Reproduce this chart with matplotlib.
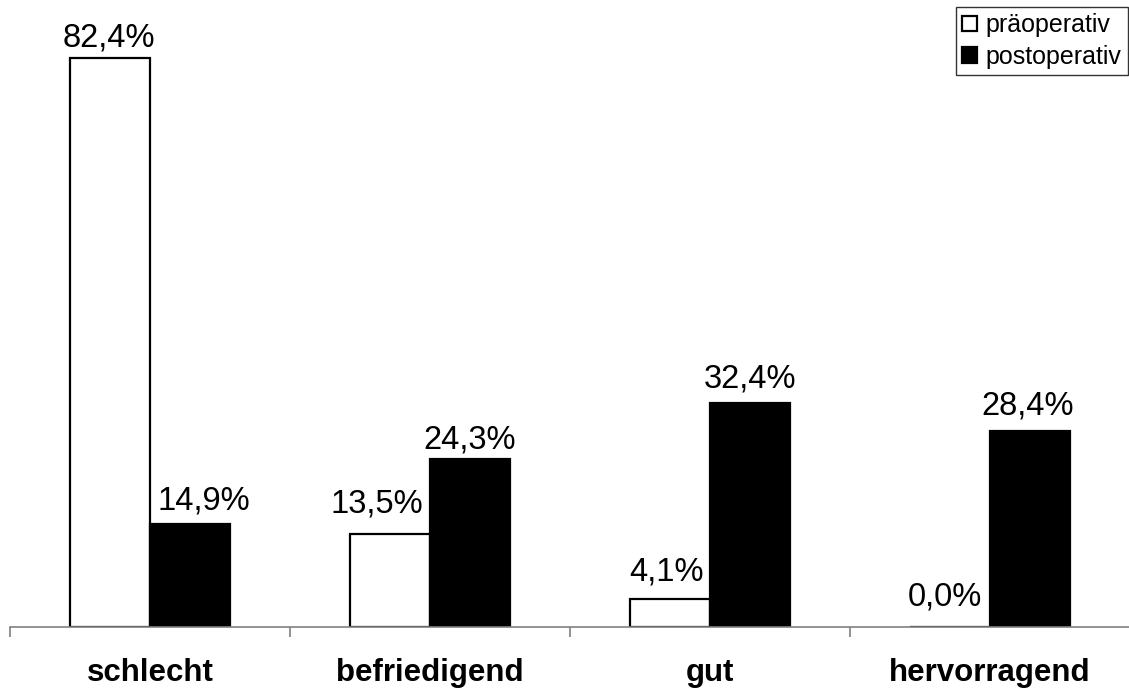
import numpy as np
import matplotlib
matplotlib.use("Agg")
import matplotlib.pyplot as plt

plt.rcParams['font.family'] = ['Liberation Sans', 'DejaVu Sans']

# Zufriedenheit vor / nach OP (Prozent)
categories = ["schlecht", "befriedigend", "gut", "hervorragend"]
prae = [82.4, 13.5, 4.1, 0.0]
post = [14.9, 24.3, 32.4, 28.4]

# Verschiebung der Beschriftungen (Pixel: dx, Abstand Grundlinie ueber Balken)
prae_dx = [-1, -13, -4, -5]
prae_dy = [12, 21, 18, 21]
post_dx = [14, 0, 0, -2]
post_dy = [15, 11, 16, 17]

def fmt(v):
    return f"{v:.1f}%".replace(".", ",")

fig = plt.figure(figsize=(11.29, 6.9), dpi=100)
ax = fig.add_axes([10/1129, 63/690, 1120/1129, 621/690])

x = np.arange(len(categories))
w = 80/280

b1 = ax.bar(x - w/2, prae, w, color="white", edgecolor="black", linewidth=1.6, label="präoperativ")
b2 = ax.bar(x + w/2, post, w, color="black", edgecolor="black", linewidth=1.6, label="postoperativ")

px = 72/100
for bars, vals, dxs, dys in ((b1, prae, prae_dx, prae_dy), (b2, post, post_dx, post_dy)):
    for r, v, dx, dy in zip(bars, vals, dxs, dys):
        ax.annotate(fmt(v), (r.get_x() + r.get_width()/2, v), xytext=(dx*px, dy*px),
                    textcoords="offset points", ha="center", va="baseline", fontsize=23.5)

ax.set_xlim(-0.5, len(categories) - 0.5)
ax.set_ylim(0, 90)
ax.set_yticks([])

# Kategorien mittig, Trennstriche an den Grenzen
ax.set_xticks(x)
ax.set_xticklabels(categories, fontsize=22.5, fontweight="bold")
ax.tick_params(axis="x", which="major", length=0, pad=22)
ax.set_xticks(np.arange(-0.5, len(categories)), minor=True)
ax.tick_params(axis="x", which="minor", length=7, width=1.2, color="#808080", direction="out")

for s in ("top", "right", "left"):
    ax.spines[s].set_visible(False)
ax.spines["bottom"].set_color("#808080")
ax.spines["bottom"].set_linewidth(1.2)

leg = fig.legend(loc="upper right", bbox_to_anchor=(1128/1129, 1 - 7/690), borderaxespad=0,
                 fontsize=18, frameon=True, fancybox=False, edgecolor="black",
                 handlelength=0.6, handleheight=0.6, handletextpad=0.35,
                 borderpad=0.25, labelspacing=0.3)
leg.get_frame().set_linewidth(1.0)

fig.savefig("out.png", dpi=100)
